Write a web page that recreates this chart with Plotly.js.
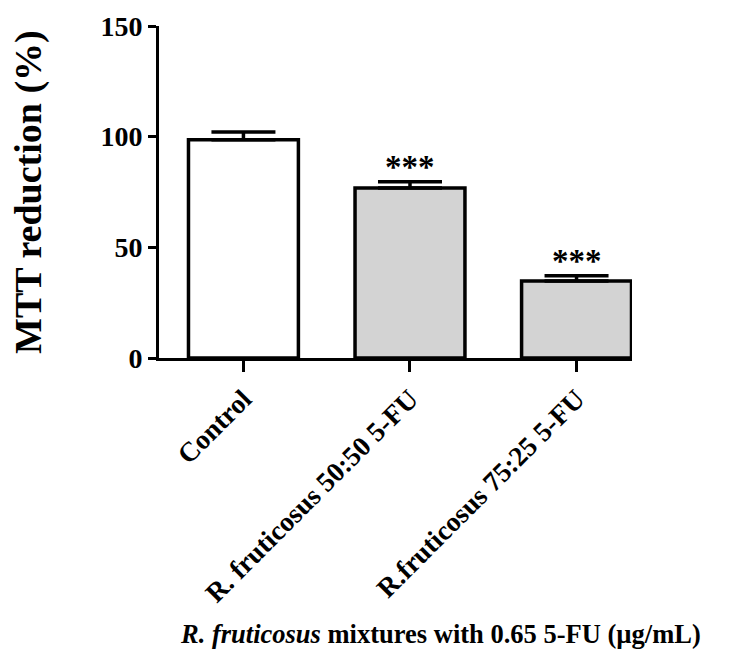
<!DOCTYPE html>
<html>
<head>
<meta charset="utf-8">
<script src="https://cdn.plot.ly/plotly-3.0.1.min.js"></script>
<style>html,body{margin:0;padding:0;background:#fff;}#chart{width:733px;height:664px;}</style>
</head>
<body>
<div id="chart"></div>
<script>
const categories = ["Control", "R. fruticosus 50:50 5-FU", "R.fruticosus 75:25 5-FU"];
const means = [98.6, 76.8, 34.8];
const sem = [3.5, 2.8, 2.4];
const significance = ["", "***", "***"];
const barColors = ["#ffffff", "#d3d3d3", "#d3d3d3"];
const yTicks = [0, 50, 100, 150];

const F = "'Liberation Serif', 'Times New Roman', serif";

const trace = {
  type: "bar",
  x: [0, 1, 2],
  y: means,
  width: 0.66,
  marker: {color: barColors, line: {color: "#000", width: 3.5}},
  error_y: {type: "data", array: sem, arrayminus: [0, 0, 0], symmetric: false,
            color: "#000", thickness: 3.5, width: 32},
  hoverinfo: "none"
};

const annotations = significance.map((s, i) => ({
  x: i, y: means[i] + sem[i], xref: "x", yref: "y",
  text: s ? "<b>" + s + "</b>" : "", showarrow: false,
  yanchor: "bottom", yshift: -5,
  font: {family: F, size: 33, color: "#000"}
})).filter(a => a.text);

annotations.push({
  xref: "paper", yref: "paper", x: -0.277, y: 0.5,
  text: "<b>MTT reduction (%)</b>", textangle: -90, showarrow: false,
  xanchor: "center", yanchor: "middle",
  font: {family: F, size: 38, color: "#000"}
});
annotations.push({
  xref: "paper", yref: "paper", x: 0.596, y: -0.83,
  text: "<b><i>R. fruticosus</i> mixtures with 0.65 5-FU (µg/mL)</b>", showarrow: false,
  xanchor: "center", yanchor: "middle",
  font: {family: F, size: 26.5, color: "#000"}
});

const layout = {
  width: 733, height: 664,
  margin: {l: 159, r: 101, t: 26, b: 306},
  paper_bgcolor: "#fff", plot_bgcolor: "#fff",
  showlegend: false,
  xaxis: {
    range: [-0.507, 2.333], tickvals: [0, 1, 2], ticktext: categories,
    tickangle: -45, ticks: "outside", ticklen: 11, tickwidth: 3, tickcolor: "#000",
    showline: true, linewidth: 3, linecolor: "#000", showgrid: false, zeroline: false,
    tickfont: {family: F, size: 27.5, color: "#000", weight: "bold"}
  },
  yaxis: {
    range: [0, 150], tickvals: yTicks, ticks: "outside", ticklen: 8, tickwidth: 3,
    tickcolor: "#000", showline: true, linewidth: 3, linecolor: "#000",
    showgrid: false, zeroline: false,
    tickfont: {family: F, size: 28, color: "#000", weight: "bold"}
  },
  annotations: annotations
};

Plotly.newPlot("chart", [trace], layout, {staticPlot: true});
</script>
</body>
</html>
